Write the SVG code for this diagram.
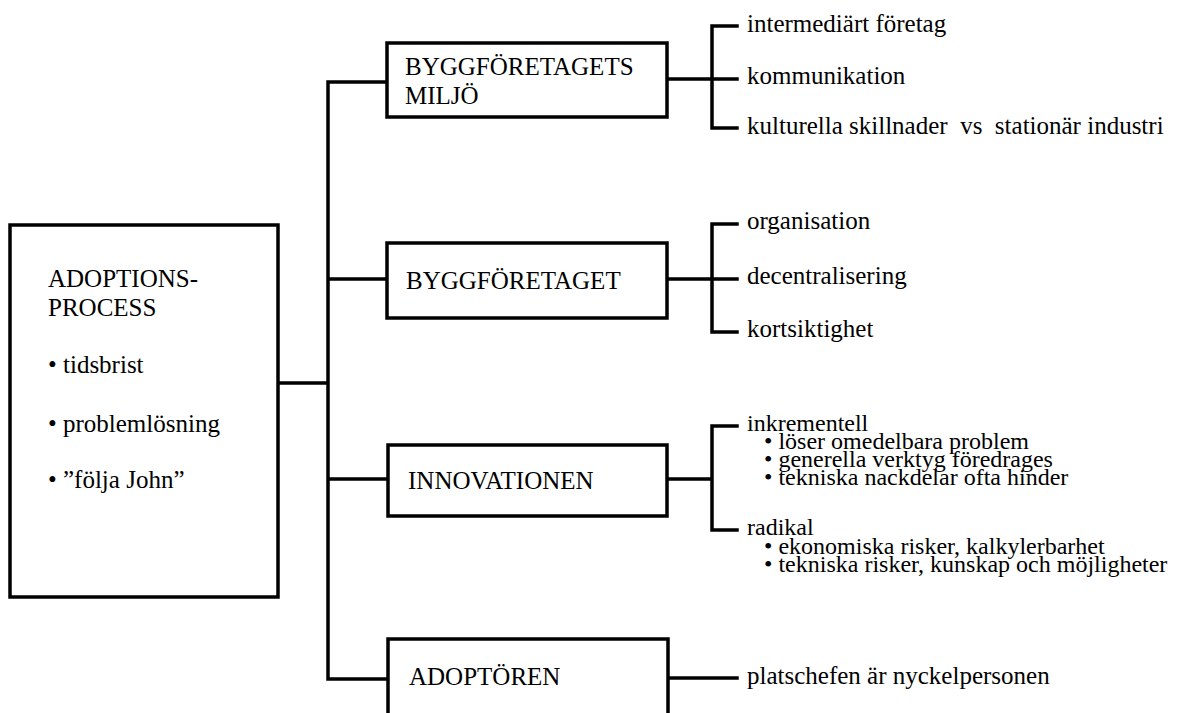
<svg xmlns="http://www.w3.org/2000/svg" width="1195" height="713" viewBox="0 0 1195 713">
<style>
.box{fill:#fff;stroke:#000;stroke-width:3.5}
.ln{fill:none;stroke:#000;stroke-width:3.5;stroke-linecap:square}
text{font-family:"Liberation Serif","Times New Roman",serif;font-size:25px;fill:#000}
.sm{font-size:24px}
</style>
<rect width="1195" height="713" fill="#fff"/>
<g id="connectors">
<path class="ln" d="M278,383 H328 M328,82 V679 M328,82 H387 M328,279 H387 M328,479 H387 M328,679 H387"/>
<path class="ln" d="M667,79 H712 M712,26 V128 M712,26 H737 M712,79 H737 M712,128 H737"/>
<path class="ln" d="M667,279 H712 M712,224 V332 M712,224 H737 M712,279 H737 M712,332 H737"/>
<path class="ln" d="M667,479 H712 M712,426 V530 M712,426 H737 M712,530 H737"/>
<path class="ln" d="M668,678 H737"/>
</g>
<g id="adoptionsprocess">
<rect class="box" x="10" y="225" width="268" height="372"/>
<text x="48" y="287">ADOPTIONS-</text>
<text x="48" y="316">PROCESS</text>
<text x="48" y="373">• tidsbrist</text>
<text x="48" y="432">• problemlösning</text>
<text x="48" y="488">• ”följa John”</text>
</g>
<g id="byggforetagets-miljo">
<rect class="box" x="387" y="43" width="280" height="74"/>
<text x="405" y="75">BYGGFÖRETAGETS</text>
<text x="405" y="104">MILJÖ</text>
</g>
<g id="byggforetaget">
<rect class="box" x="387" y="243" width="280" height="75"/>
<text x="406" y="289">BYGGFÖRETAGET</text>
</g>
<g id="innovationen">
<rect class="box" x="388" y="445" width="279" height="71"/>
<text x="408" y="489">INNOVATIONEN</text>
</g>
<g id="adoptoren">
<rect class="box" x="388" y="639" width="280" height="80"/>
<text x="409" y="685">ADOPTÖREN</text>
</g>
<g id="miljo-items">
<text x="747" y="32">intermediärt företag</text>
<text x="747" y="84">kommunikation</text>
<text x="747" y="134" xml:space="preserve">kulturella skillnader  vs  stationär industri</text>
</g>
<g id="foretaget-items">
<text x="747" y="229">organisation</text>
<text x="747" y="284">decentralisering</text>
<text x="747" y="337">kortsiktighet</text>
</g>
<g id="innovation-items">
<text class="sm" x="747" y="431">inkrementell</text>
<text class="sm" x="764" y="449">• löser omedelbara problem</text>
<text class="sm" x="764" y="467">• generella verktyg föredrages</text>
<text class="sm" x="764" y="485">• tekniska nackdelar ofta hinder</text>
<text class="sm" x="747" y="535">radikal</text>
<text class="sm" x="764" y="554">• ekonomiska risker, kalkylerbarhet</text>
<text class="sm" x="764" y="572">• tekniska risker, kunskap och möjligheter</text>
</g>
<g id="adoptor-items">
<text x="747" y="684">platschefen är nyckelpersonen</text>
</g>
</svg>
